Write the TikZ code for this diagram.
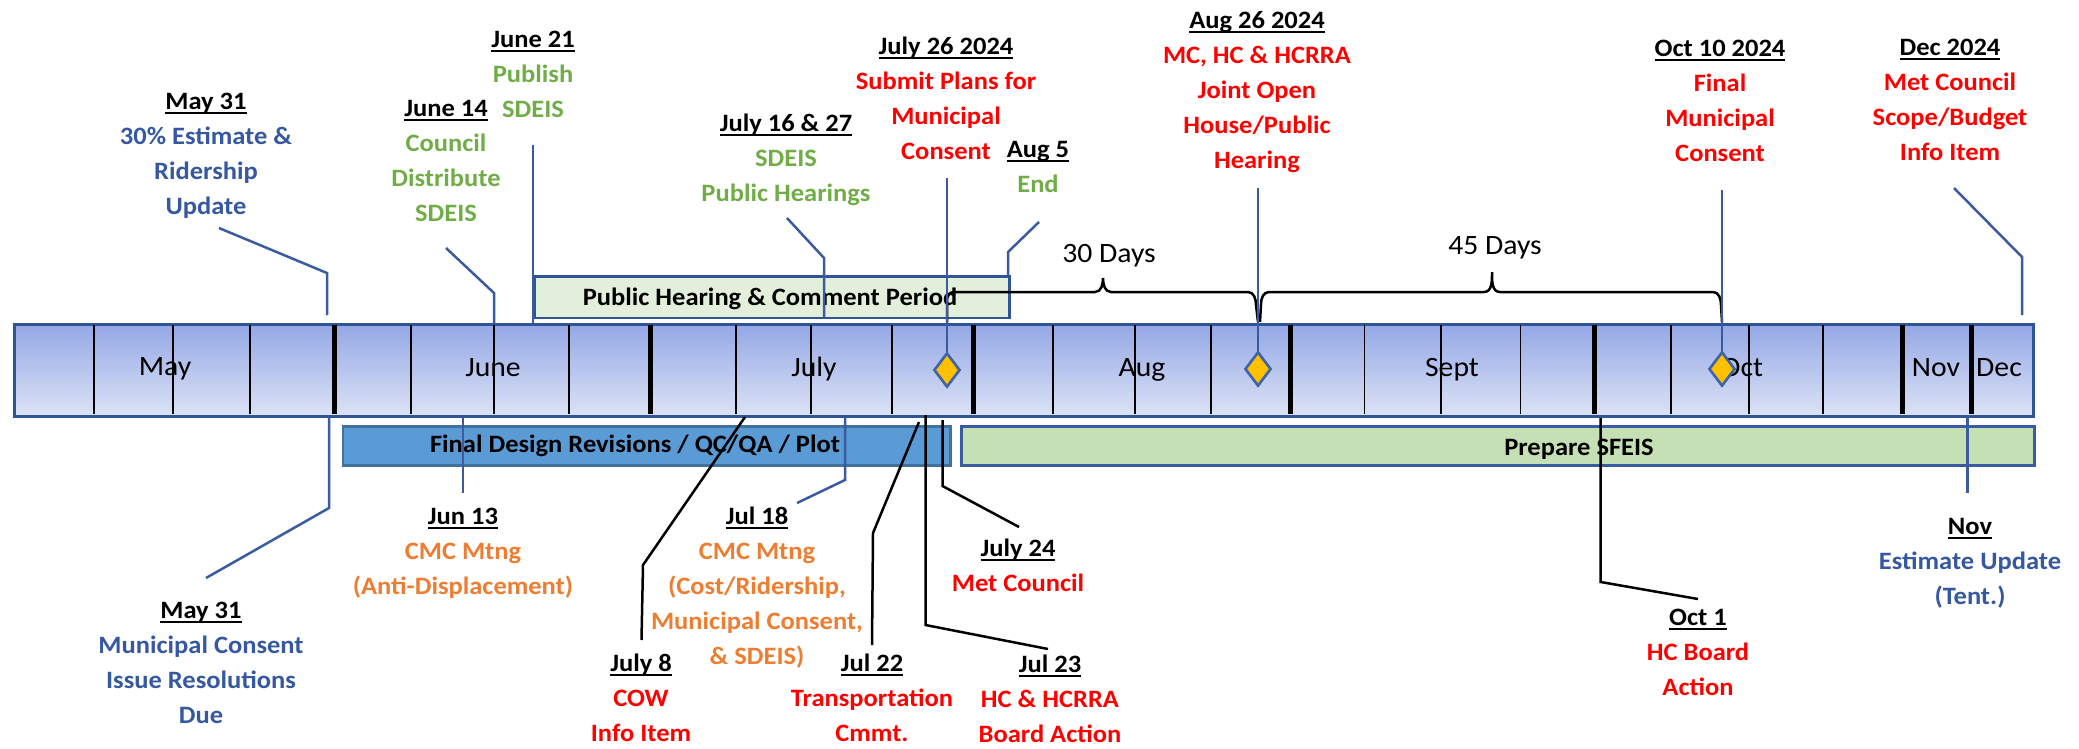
\documentclass[tikz,border=0pt]{standalone}
\usepackage{fontspec}
\setmainfont{Carlito}[FakeStretch=1.06]
\usetikzlibrary{shapes.geometric}
\definecolor{txblue}{HTML}{3558A0}
\definecolor{txgreen}{HTML}{70AD47}
\definecolor{txorange}{HTML}{ED7D31}
\definecolor{txred}{HTML}{FF0000}
\definecolor{leadblue}{HTML}{3B5BA0}
\definecolor{barborder}{HTML}{2F5597}
\definecolor{bartop}{HTML}{94A8E6}
\definecolor{barbot}{HTML}{DDE3F5}
\definecolor{fdrfill}{HTML}{5B9BD5}
\definecolor{fdrborder}{HTML}{41719C}
\definecolor{sffill}{HTML}{C5E0B4}
\definecolor{phfill}{HTML}{E2EFDA}
\definecolor{dmfill}{HTML}{FFC000}
\definecolor{dmborder}{HTML}{3F64A8}
\newcommand{\myul}[1]{\setbox0=\hbox{#1}\rlap{\rule[-4.5pt]{\wd0}{1.8pt}}\box0}
\newcommand{\ttl}[1]{\strut\textcolor{black}{\myul{#1}}}
\begin{document}
\begin{tikzpicture}[x=1pt,y=-1pt,
  lbl/.style={font=\fontsize{25}{35}\selectfont\bfseries, align=center, inner sep=0pt, anchor=north},
  monthlbl/.style={font=\fontsize{28}{30}\selectfont, inner sep=0pt, anchor=base},
  bartext/.style={font=\fontsize{25}{28}\selectfont\bfseries, inner sep=0pt, anchor=base},
  daystext/.style={font=\fontsize{28}{30}\selectfont, inner sep=0pt, anchor=base},
  bluelead/.style={draw=leadblue, line width=2.5pt},
  blacklead/.style={draw=black, line width=2.5pt},
  wkdiv/.style={draw=black, line width=1.8pt},
  mondiv/.style={draw=black, line width=5pt},
  bracestyle/.style={draw=black, line width=2.5pt},
  dmd/.style={diamond, draw=dmborder, fill=dmfill, line width=2.5pt, minimum width=26pt, minimum height=34pt, inner sep=0pt},
  boxbar/.style={line width=2.5pt, inner sep=0pt, anchor=north west}
]
\useasboundingbox (0,0) rectangle (2079,748);

% main timeline bar
\node[draw=barborder, line width=3pt, top color=bartop, bottom color=barbot, minimum width=2019.5pt, minimum height=91.7pt, inner sep=0pt, anchor=north west] (bar) at (12.5,323.3) {};
\foreach \x in {93.7,173.2,250,410.7,493.7,568.7,735.8,810.8,892,1052.7,1135.3,1211.2,1364.5,1440.7,1520.5,1670.9,1748.8,1822.6}
  \draw[wkdiv] (\x,324.8) -- (\x,413.5);
\foreach \x in {334,650,973.3,1290.2,1594.3,1902.4,1971.2}
  \draw[mondiv] (\x,324.8) -- (\x,413.5);

% boxes
\node[boxbar, draw=barborder, fill=phfill, minimum width=475pt, minimum height=41.7pt] (ph) at (533,275) {};
\node[boxbar, draw=fdrborder, fill=fdrfill, minimum width=607.5pt, minimum height=39pt] (fdr) at (341.5,425) {};
\node[boxbar, draw=leadblue, fill=sffill, minimum width=1073pt, minimum height=39pt] (sf) at (960,425) {};
\node[bartext] (phT) at (770,305) {Public Hearing \& Comment Period};
\node[bartext] (fdrT) at (635,452) {Final Design Revisions / QC/QA / Plot};
\node[bartext] (sfT) at (1579,455) {Prepare SFEIS};

% diamonds
\node[dmd] (d1) at (947,370) {};
\node[dmd] (d2) at (1258,369) {};
\node[dmd] (d3) at (1722,369) {};

% month labels
\node[monthlbl] (mMay) at (165,375) {May};
\node[monthlbl] (mJun) at (493,376) {June};
\node[monthlbl] (mJul) at (814,376) {July};
\node[monthlbl] (mAug) at (1142,376) {Aug};
\node[monthlbl] (mSep) at (1452,376) {Sept};
\node[monthlbl] (mOct) at (1742,376) {Oct};
\node[monthlbl] (mNov) at (1936,376) {Nov};
\node[monthlbl] (mDec) at (1999,376) {Dec};

% braces
\draw[bracestyle] (947,322) -- (947,300) to[out=90,in=180] (954,292) -- (1095,292) to[out=0,in=-90] (1103,278) to[out=-90,in=180] (1111,292) -- (1248,292) to[out=0,in=90] (1256,305) -- (1258,322);
\draw[bracestyle] (1260,322) -- (1261,304) to[out=90,in=180] (1269,292) -- (1484,292) to[out=0,in=-90] (1492,272) to[out=-90,in=180] (1500,292) -- (1713,292) to[out=0,in=90] (1721,305) -- (1722,322);
\node[daystext] (t30) at (1109,262) {30 Days};
\node[daystext] (t45) at (1495,254) {45 Days};

% top labels
\node[lbl, text=txblue] (A) at (206,85) {\ttl{May 31}\\\strut 30\% Estimate \&\\\strut Ridership\\\strut Update};
\node[lbl, text=txgreen] (B) at (446,92) {\ttl{June 14}\\\strut Council\\\strut Distribute\\\strut SDEIS};
\node[lbl, text=txgreen] (C) at (533,23) {\ttl{June 21}\\\strut Publish\\\strut SDEIS};
\node[lbl, text=txgreen] (D) at (786,107) {\ttl{July 16 \& 27}\\\strut SDEIS\\\strut Public Hearings};
\node[lbl, text=txred] (E) at (946,30) {\ttl{July 26 2024}\\\strut Submit Plans for\\\strut Municipal\\\strut Consent};
\node[lbl, text=txgreen] (F) at (1038,133) {\ttl{Aug 5}\\\strut End};
\node[lbl, text=txred] (G) at (1257,4) {\ttl{Aug 26 2024}\\\strut MC, HC \& HCRRA\\\strut Joint Open\\\strut House/Public\\\strut Hearing};
\node[lbl, text=txred] (H) at (1720,32) {\ttl{Oct 10 2024}\\\strut Final\\\strut Municipal\\\strut Consent};
\node[lbl, text=txred] (I) at (1950,31) {\ttl{Dec 2024}\\\strut Met Council\\\strut Scope/Budget\\\strut Info Item};

% bottom labels
\node[lbl, text=txblue] (J) at (201,594) {\ttl{May 31}\\\strut Municipal Consent\\\strut Issue Resolutions\\\strut Due};
\node[lbl, text=txorange] (K) at (463,500) {\ttl{Jun 13}\\\strut CMC Mtng\\\strut (Anti-Displacement)};
\node[lbl, text=txred] (L) at (641,647) {\ttl{July 8}\\\strut COW\\\strut Info Item};
\node[lbl, text=txorange] (M) at (757,500) {\ttl{Jul 18}\\\strut CMC Mtng\\\strut (Cost/Ridership,\\\strut Municipal Consent,\\\strut \& SDEIS)};
\node[lbl, text=txred] (N) at (872,647) {\ttl{Jul 22}\\\strut Transportation\\\strut Cmmt.};
\node[lbl, text=txred] (O) at (1018,532) {\ttl{July 24}\\\strut Met Council};
\node[lbl, text=txred] (P) at (1050,648) {\ttl{Jul 23}\\\strut HC \& HCRRA\\\strut Board Action};
\node[lbl, text=txred] (Q) at (1698,601) {\ttl{Oct 1}\\\strut HC Board\\\strut Action};
\node[lbl, text=txblue] (R) at (1970,510) {\ttl{Nov}\\\strut Estimate Update\\\strut (Tent.)};

% leader end coordinates
\coordinate (a0) at (219,228);
\coordinate (b0) at (446,248);
\coordinate (c0) at (533,145);
\coordinate (d0) at (787,218);
\coordinate (e0) at (947,178);
\coordinate (f0) at (1039,222);
\coordinate (g0) at (1258,188);
\coordinate (h0) at (1722,190);
\coordinate (i0) at (1954,188);
\coordinate (j0) at (206,578);
\coordinate (k0) at (463,493);
\coordinate (l0) at (641.5,640);
\coordinate (m0) at (797,503);
\coordinate (n0) at (872,645);
\coordinate (o0) at (1019,527);
\coordinate (p0) at (1048,649);
\coordinate (q0) at (1698,599);
\coordinate (r0) at (1967.5,493);

% top leaders
\draw[bluelead] (a0) -- (327,273) -- (327,315);
\draw[bluelead] (b0) -- (494,293) -- (494,323);
\draw[bluelead] (c0) -- (533,323);
\draw[bluelead] (d0) -- (824,258) -- (824,317);
\draw[bluelead] (e0) -- (d1.north);
\draw[bluelead] (f0) -- (1008,252) -- (1008,275);
\draw[bluelead] (g0) -- (d2.north);
\draw[bluelead] (h0) -- (d3.north);
\draw[bluelead] (i0) -- (2022,257) -- (2022,315);

% bottom leaders
\draw[bluelead] (329,417) -- (329,508) -- (j0);
\draw[bluelead] (463,417) -- (k0);
\draw[blacklead] (745,417) -- (643,565) -- (l0);
\draw[bluelead] (845,418) -- (845,480) -- (m0);
\draw[blacklead] (919,422) -- (873,533) -- (n0);
\draw[blacklead] (942.5,420) -- (942.5,486) -- (o0);
\draw[blacklead] (925.5,415) -- (925.5,625) -- (p0);
\draw[blacklead] (1600.7,418) -- (1600.7,582) -- (q0);
\draw[bluelead] (1967.5,415) -- (r0);

% redraw diamonds on top of their leaders
\node[dmd] at (d1) {};
\node[dmd] at (d2) {};
\node[dmd] at (d3) {};
\end{tikzpicture}
\end{document}
